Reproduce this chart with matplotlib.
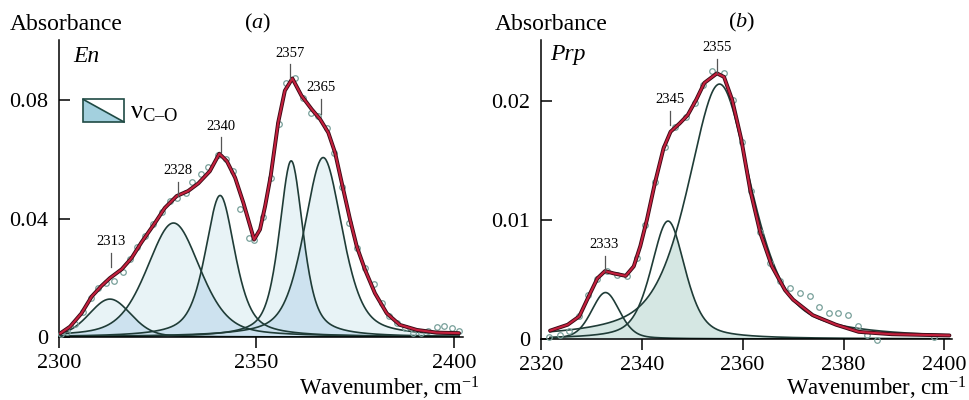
import matplotlib.pyplot as plt
import numpy as np

plt.rcParams['font.family'] = 'serif'
plt.rcParams['font.serif'] = ['Liberation Serif', 'DejaVu Serif']
plt.rcParams['mathtext.fontset'] = 'custom'
plt.rcParams['mathtext.rm'] = 'Liberation Serif'
plt.rcParams['mathtext.it'] = 'Liberation Serif:italic'

# ---- panel (a): En ----
a_fit_x = [2300.3, 2302.8, 2305.7, 2308.3, 2310.8, 2312.9, 2315.9, 2318.4, 2320.9, 2324.3,
           2326.8, 2329.8, 2332.7, 2335.3, 2338.2, 2340.6, 2342.5, 2344.6, 2346.7, 2349.4,
           2350.9, 2352.2, 2353.6, 2355.5, 2357.2, 2359.1, 2361.4, 2364.0, 2366.1, 2368.2,
           2369.9, 2371.6, 2373.7, 2375.4, 2377.5, 2380.0, 2383.0, 2386.3, 2390.6, 2395.6, 2401.3]
a_fit_y = [0.0012, 0.0035, 0.0080, 0.0137, 0.0173, 0.0199, 0.0229, 0.0267, 0.0320, 0.0385,
           0.0436, 0.0476, 0.0493, 0.0519, 0.0560, 0.0619, 0.0594, 0.0538, 0.0453, 0.0329,
           0.0363, 0.0442, 0.0543, 0.0724, 0.0832, 0.0873, 0.0815, 0.0769, 0.0736, 0.0690,
           0.0623, 0.0521, 0.0397, 0.0306, 0.0227, 0.0148, 0.0080, 0.0041, 0.0024, 0.0015, 0.0013]

a_obs_x = [2300.5, 2302.0, 2304.0, 2306.0, 2308.0, 2310.0, 2311.9, 2314.0, 2316.1, 2318.0,
           2319.7, 2321.8, 2323.9, 2326.0, 2328.0, 2330.0, 2332.2, 2333.7, 2335.9, 2337.8,
           2340.3, 2342.2, 2344.0, 2345.8, 2348.2, 2349.4, 2351.7, 2353.8, 2355.8, 2357.6,
           2359.7, 2361.7, 2363.8, 2365.6, 2367.8, 2369.6, 2371.6, 2373.4, 2375.5, 2377.6,
           2379.7, 2381.8, 2383.5, 2385.5, 2387.6, 2389.7, 2391.6, 2393.5, 2395.6, 2397.5,
           2399.4, 2401.3]
a_obs_y = [0.0010, 0.0018, 0.0045, 0.0085, 0.0131, 0.0165, 0.0184, 0.0190, 0.0220, 0.0262,
           0.0304, 0.0342, 0.0383, 0.0421, 0.0458, 0.0470, 0.0487, 0.0523, 0.0549, 0.0575,
           0.0615, 0.0600, 0.0560, 0.0431, 0.0335, 0.0329, 0.0406, 0.0538, 0.0719, 0.0858,
           0.0873, 0.0806, 0.0758, 0.0747, 0.0707, 0.0620, 0.0507, 0.0385, 0.0300, 0.0233,
           0.0180, 0.0116, 0.0070, 0.0046, 0.0029, 0.0012, 0.0012, 0.0020, 0.0035, 0.0036,
           0.0029, 0.0021]

# fitted band components: centre, height, FWHM, Lorentzian fraction
a_centers = [2312.9, 2329.0, 2340.8, 2358.8, 2366.9]
a_heights = [0.0128, 0.0385, 0.0478, 0.0595, 0.0606]
a_fwhm = [12.5, 16.0, 9.0, 7.2, 11.5]
a_eta = [0.2, 0.4, 0.6, 0.6, 0.5]

a_peak_labels = ['2313', '2328', '2340', '2357', '2365']
a_label_x = [2313.2, 2330.1, 2341.0, 2358.6, 2366.4]
a_label_y = [0.0322, 0.0563, 0.0712, 0.0959, 0.0841]

# ---- panel (b): Prp ----
b_fit_x = [2321.8, 2325.3, 2327.6, 2329.6, 2331.2, 2332.7, 2334.5, 2336.8, 2338.4, 2339.7,
           2341.0, 2342.6, 2344.3, 2345.7, 2347.5, 2349.1, 2350.8, 2352.4, 2354.9, 2356.3,
           2357.9, 2359.7, 2361.5, 2363.5, 2365.8, 2368.4, 2370.0, 2373.9, 2378.5, 2383.0,
           2389.6, 2401.0]
b_fit_y = [0.0007, 0.0012, 0.0019, 0.0037, 0.0051, 0.0057, 0.0055, 0.0053, 0.0061, 0.0078,
           0.0100, 0.0131, 0.0160, 0.0174, 0.0181, 0.0188, 0.0201, 0.0215, 0.0223, 0.0220,
           0.0201, 0.0168, 0.0125, 0.0089, 0.0061, 0.0041, 0.0033, 0.0020, 0.0012, 0.0006,
           0.0004, 0.0003]

b_obs_x = [2321.6, 2323.7, 2325.5, 2327.5, 2329.4, 2331.2, 2333.0, 2335.0, 2337.0, 2339.0,
           2340.7, 2342.6, 2344.6, 2346.5, 2348.8, 2350.5, 2352.1, 2354.0, 2356.3, 2358.1,
           2359.8, 2361.6, 2363.5, 2365.5, 2367.4, 2369.3, 2371.3, 2373.3, 2375.2, 2377.1,
           2378.9, 2380.9, 2382.9, 2384.7, 2386.6, 2398.0]
b_obs_y = [0.0002, 0.0003, 0.0007, 0.0019, 0.0037, 0.0050, 0.0057, 0.0054, 0.0053, 0.0068,
           0.0096, 0.0132, 0.0161, 0.0178, 0.0186, 0.0198, 0.0213, 0.0225, 0.0223, 0.0201,
           0.0165, 0.0124, 0.0090, 0.0064, 0.0049, 0.0043, 0.0039, 0.0036, 0.0027, 0.0022,
           0.0022, 0.0020, 0.0011, 0.0003, -0.0001, 0.0002]

b_centers = [2332.8, 2345.2, 2355.4]
b_heights = [0.0039, 0.0099, 0.0214]
b_fwhm = [6.6, 8.0, 15.0]
b_eta = [0.3, 0.5, 0.6]

b_peak_labels = ['2333', '2345', '2355']
b_label_x = [2332.6, 2345.6, 2355.0]
b_label_y = [0.0079, 0.0201, 0.0245]


def pseudo_voigt(x, c, h, w, eta):
    lor = 1.0 / (1.0 + (2 * (x - c) / w) ** 2)
    gau = np.exp(-4 * np.log(2) * ((x - c) / w) ** 2)
    return h * (eta * lor + (1 - eta) * gau)


fig = plt.figure(figsize=(9.7, 4.0), dpi=100)
ax_a = fig.add_axes([0.0608, 0.1575, 0.4165, 0.7425])
ax_b = fig.add_axes([0.5577, 0.1525, 0.4237, 0.7475])

line_col = '#1f3c37'
obs_col = '#78a09a'


def draw_panel(ax, xlo, xhi, ytop, fit_x, fit_y, obs_x, obs_y, centers, heights,
               fwhm, eta, labels, lx, ly, light, dark, lab_step):
    xs = np.linspace(xlo, xhi, 600)
    comps = np.array([pseudo_voigt(xs, c, h, w, e)
                      for c, h, w, e in zip(centers, heights, fwhm, eta)])
    srt = np.sort(comps, axis=0)
    if light is not None:
        ax.fill_between(xs, 0, srt[-1], color=light, lw=0, zorder=1)
    ax.fill_between(xs, 0, srt[-2], color=dark, lw=0, zorder=1)
    for comp in comps:
        ax.plot(xs, comp, color=line_col, lw=1.2, zorder=2)
    ax.plot(obs_x, obs_y, 'o', ms=4.0, mfc='none', mec=obs_col, mew=0.9,
            zorder=3, clip_on=False)
    ax.plot(fit_x, fit_y, color='#3d0a16', lw=2.8, zorder=4, solid_capstyle='round')
    ax.plot(fit_x, fit_y, color='#c4203d', lw=1.5, zorder=5, solid_capstyle='round')
    for t, x, y in zip(labels, lx, ly):
        ax.text(x, y, t, ha='center', va='center', fontsize=10.5, zorder=6)
        ax.plot([x, x], [y - 0.33 * lab_step, y - 0.75 * lab_step],
                color='#555555', lw=0.9, zorder=6)
    ax.set_ylim(0, ytop)
    for s in ['top', 'right']:
        ax.spines[s].set_visible(False)
    for s in ['left', 'bottom']:
        ax.spines[s].set_linewidth(1.1)
    ax.tick_params(axis='y', direction='in', length=8, width=1.1, pad=8, labelsize=16)
    ax.tick_params(axis='x', direction='out', length=8, width=1.1, pad=4, labelsize=16)


draw_panel(ax_a, 2300, 2401.3, 0.1003, a_fit_x, a_fit_y, a_obs_x, a_obs_y,
           a_centers, a_heights, a_fwhm, a_eta, a_peak_labels, a_label_x, a_label_y,
           '#e8f3f6', '#cde2ef', 0.0115)
ax_a.set_xlim(2300, 2402.3)
ax_a.set_xticks([2300, 2350, 2400])
ax_a.set_yticks([0, 0.04, 0.08])
ax_a.set_yticklabels(['0', '0.04', '0.08'])

draw_panel(ax_b, 2321.8, 2401.0, 0.0251, b_fit_x, b_fit_y, b_obs_x, b_obs_y,
           b_centers, b_heights, b_fwhm, b_eta, b_peak_labels, b_label_x, b_label_y,
           None, '#d5e7e3', 0.0029)
ax_b.set_xlim(2320, 2401.5)
ax_b.set_xticks([2320, 2340, 2360, 2380, 2400])
ax_b.set_yticks([0, 0.01, 0.02])
ax_b.set_yticklabels(['0', '0.01', '0.02'])

for ax in (ax_a, ax_b):
    for lbl in ax.get_xticklabels() + ax.get_yticklabels():
        lbl.set_fontfamily('Liberation Serif')

# axis captions
fig.text(0.495, 0.0125, 'Wavenumber, cm$^{-1}$', fontsize=16.5, ha='right', va='baseline')
fig.text(0.997, 0.0125, 'Wavenumber, cm$^{-1}$', fontsize=16.5, ha='right', va='baseline')
fig.text(0.010, 0.9375, 'Absorbance', fontsize=17, ha='left', va='center')
fig.text(0.510, 0.9375, 'Absorbance', fontsize=17, ha='left', va='center')

ax_a.text(0.4926, 1.057, '($a$)', transform=ax_a.transAxes, fontsize=16,
          ha='center', va='center')
ax_b.text(0.489, 1.057, '($b$)', transform=ax_b.transAxes, fontsize=16,
          ha='center', va='center')
ax_a.text(0.035, 0.943, 'En', transform=ax_a.transAxes, fontsize=17,
          style='italic', ha='left', va='center')
ax_b.text(0.022, 0.95, 'Prp', transform=ax_b.transAxes, fontsize=17,
          style='italic', ha='left', va='center')

# legend swatch for nu(C-O)
bx0, bx1, by0, by1 = 0.0600, 0.1610, 0.7239, 0.8000
ax_a.add_patch(plt.Polygon([[bx0, by1], [bx1, by0], [bx0, by0]], closed=True,
                           transform=ax_a.transAxes, facecolor='#a3d0de',
                           edgecolor='none', zorder=7))
ax_a.add_patch(plt.Rectangle((bx0, by0), bx1 - bx0, by1 - by0, transform=ax_a.transAxes,
                             facecolor='none', edgecolor='#1f4a44', lw=1.2, zorder=8))
ax_a.plot([bx0, bx1], [by1, by0], transform=ax_a.transAxes, color='#1f4a44',
          lw=1.2, zorder=8)
ax_a.text(0.175, 0.735, '$\\mathrm{\\nu}_{\\mathrm{C\u2013O}}$', transform=ax_a.transAxes,
          fontsize=19, ha='left', va='baseline')

fig.savefig('out.png', dpi=100)
